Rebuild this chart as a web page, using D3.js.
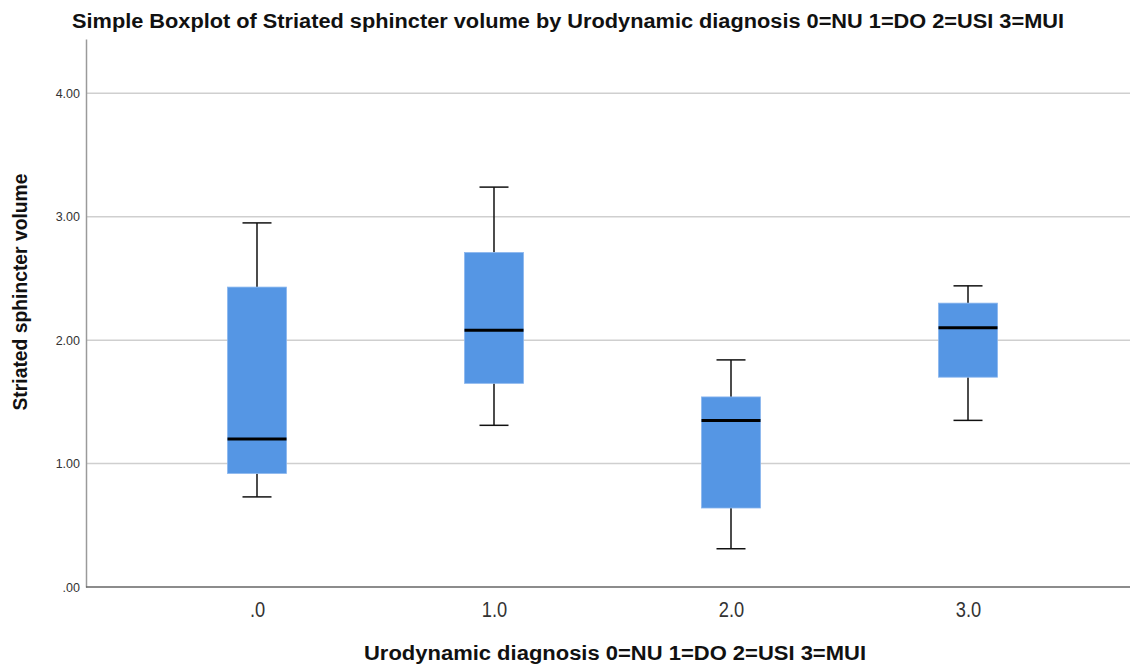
<!DOCTYPE html>
<html>
<head>
<meta charset="utf-8">
<script src="https://cdn.jsdelivr.net/npm/d3@7"></script>
<style>
  html, body { margin: 0; padding: 0; background: #fff; }
  svg { display: block; font-family: "Liberation Sans", Arial, sans-serif; }
</style>
</head>
<body>
<svg id="chart" width="1130" height="664"></svg>
<script>
// Urodynamic diagnosis groups and their five-number summaries
const categories = [0, 1, 2, 3];
const tickLabels = [".0", "1.0", "2.0", "3.0"];
const whiskerLow  = [0.73, 1.31, 0.31, 1.35];
const q1          = [0.92, 1.65, 0.64, 1.70];
const median      = [1.20, 2.08, 1.35, 2.10];
const q3          = [2.43, 2.71, 1.54, 2.30];
const whiskerHigh = [2.95, 3.24, 1.84, 2.44];
const yTicks = [0, 1, 2, 3, 4];
const yMax = 4.44;

const svg = d3.select("#chart");
const plotLeft = 86, plotRight = 1130, plotTop = 39, plotBottom = 587;

const y = d3.scaleLinear().domain([0, yMax]).range([plotBottom, plotTop]);
const x = d3.scalePoint().domain(categories).range([86, 1139]).padding(0.7215);

const boxW = 59, capW = 29;

// horizontal gridlines
svg.append("g").selectAll("line").data(yTicks.filter(d => d > 0)).join("line")
  .attr("x1", plotLeft).attr("x2", plotRight)
  .attr("y1", d => y(d)).attr("y2", d => y(d))
  .attr("stroke", "#cfcfcf").attr("stroke-width", 1.5);

// y axis
const yAxis = d3.axisLeft(y).tickValues(yTicks).tickSize(0).tickPadding(6)
  .tickFormat(d => d === 0 ? ".00" : d3.format(".2f")(d));
const gy = svg.append("g").attr("transform", `translate(${plotLeft},0)`).call(yAxis);
gy.select(".domain").attr("stroke", "#9a9a9a").attr("stroke-width", 1.5);
gy.selectAll(".tick text").attr("font-size", 12.5).attr("fill", "#333");

// x axis
const xAxis = d3.axisBottom(x).tickSize(0).tickPadding(14.5)
  .tickFormat((d, i) => tickLabels[i]);
const gx = svg.append("g").attr("transform", `translate(0,${plotBottom})`).call(xAxis);
gx.select(".domain").remove();
gx.selectAll(".tick text").attr("font-size", 21.5).attr("fill", "#333")
  .attr("transform", "scale(0.85,1)");
svg.append("line").attr("x1", plotLeft).attr("x2", plotRight).attr("y1", plotBottom).attr("y2", plotBottom)
  .attr("stroke", "#666").attr("stroke-width", 1.5);

// boxes
const boxes = svg.append("g").selectAll("g").data(categories).join("g");
boxes.append("line")
  .attr("x1", d => x(d)).attr("x2", d => x(d))
  .attr("y1", (d, i) => y(whiskerHigh[i])).attr("y2", (d, i) => y(q3[i]))
  .attr("stroke", "#111").attr("stroke-width", 1.5);
boxes.append("line")
  .attr("x1", d => x(d)).attr("x2", d => x(d))
  .attr("y1", (d, i) => y(whiskerLow[i])).attr("y2", (d, i) => y(q1[i]))
  .attr("stroke", "#111").attr("stroke-width", 1.5);
boxes.append("line")
  .attr("x1", d => x(d) - capW / 2).attr("x2", d => x(d) + capW / 2)
  .attr("y1", (d, i) => y(whiskerHigh[i])).attr("y2", (d, i) => y(whiskerHigh[i]))
  .attr("stroke", "#111").attr("stroke-width", 1.5);
boxes.append("line")
  .attr("x1", d => x(d) - capW / 2).attr("x2", d => x(d) + capW / 2)
  .attr("y1", (d, i) => y(whiskerLow[i])).attr("y2", (d, i) => y(whiskerLow[i]))
  .attr("stroke", "#111").attr("stroke-width", 1.5);
boxes.append("rect")
  .attr("x", d => x(d) - boxW / 2).attr("width", boxW)
  .attr("y", (d, i) => y(q3[i])).attr("height", (d, i) => y(q1[i]) - y(q3[i]))
  .attr("fill", "#5596e4").attr("stroke", "#8ab6ee").attr("stroke-width", 0.8);
boxes.append("line")
  .attr("x1", d => x(d) - boxW / 2).attr("x2", d => x(d) + boxW / 2)
  .attr("y1", (d, i) => y(median[i])).attr("y2", (d, i) => y(median[i]))
  .attr("stroke", "#000").attr("stroke-width", 3);

// titles
svg.append("text").attr("x", 568).attr("y", 28).attr("text-anchor", "middle")
  .attr("font-size", 19.5).attr("font-weight", "bold").attr("fill", "#111")
  .attr("textLength", 992).attr("lengthAdjust", "spacingAndGlyphs")
  .text("Simple Boxplot of Striated sphincter volume by Urodynamic diagnosis 0=NU 1=DO 2=USI 3=MUI");

svg.append("text").attr("x", 615).attr("y", 660).attr("text-anchor", "middle")
  .attr("font-size", 19.5).attr("font-weight", "bold").attr("fill", "#111")
  .attr("textLength", 502).attr("lengthAdjust", "spacingAndGlyphs")
  .text("Urodynamic diagnosis 0=NU 1=DO 2=USI 3=MUI");

svg.append("text").attr("transform", "translate(27,292) rotate(-90)").attr("text-anchor", "middle")
  .attr("font-size", 19.5).attr("font-weight", "bold").attr("fill", "#111")
  .attr("textLength", 237).attr("lengthAdjust", "spacingAndGlyphs")
  .text("Striated sphincter volume");
</script>
</body>
</html>
